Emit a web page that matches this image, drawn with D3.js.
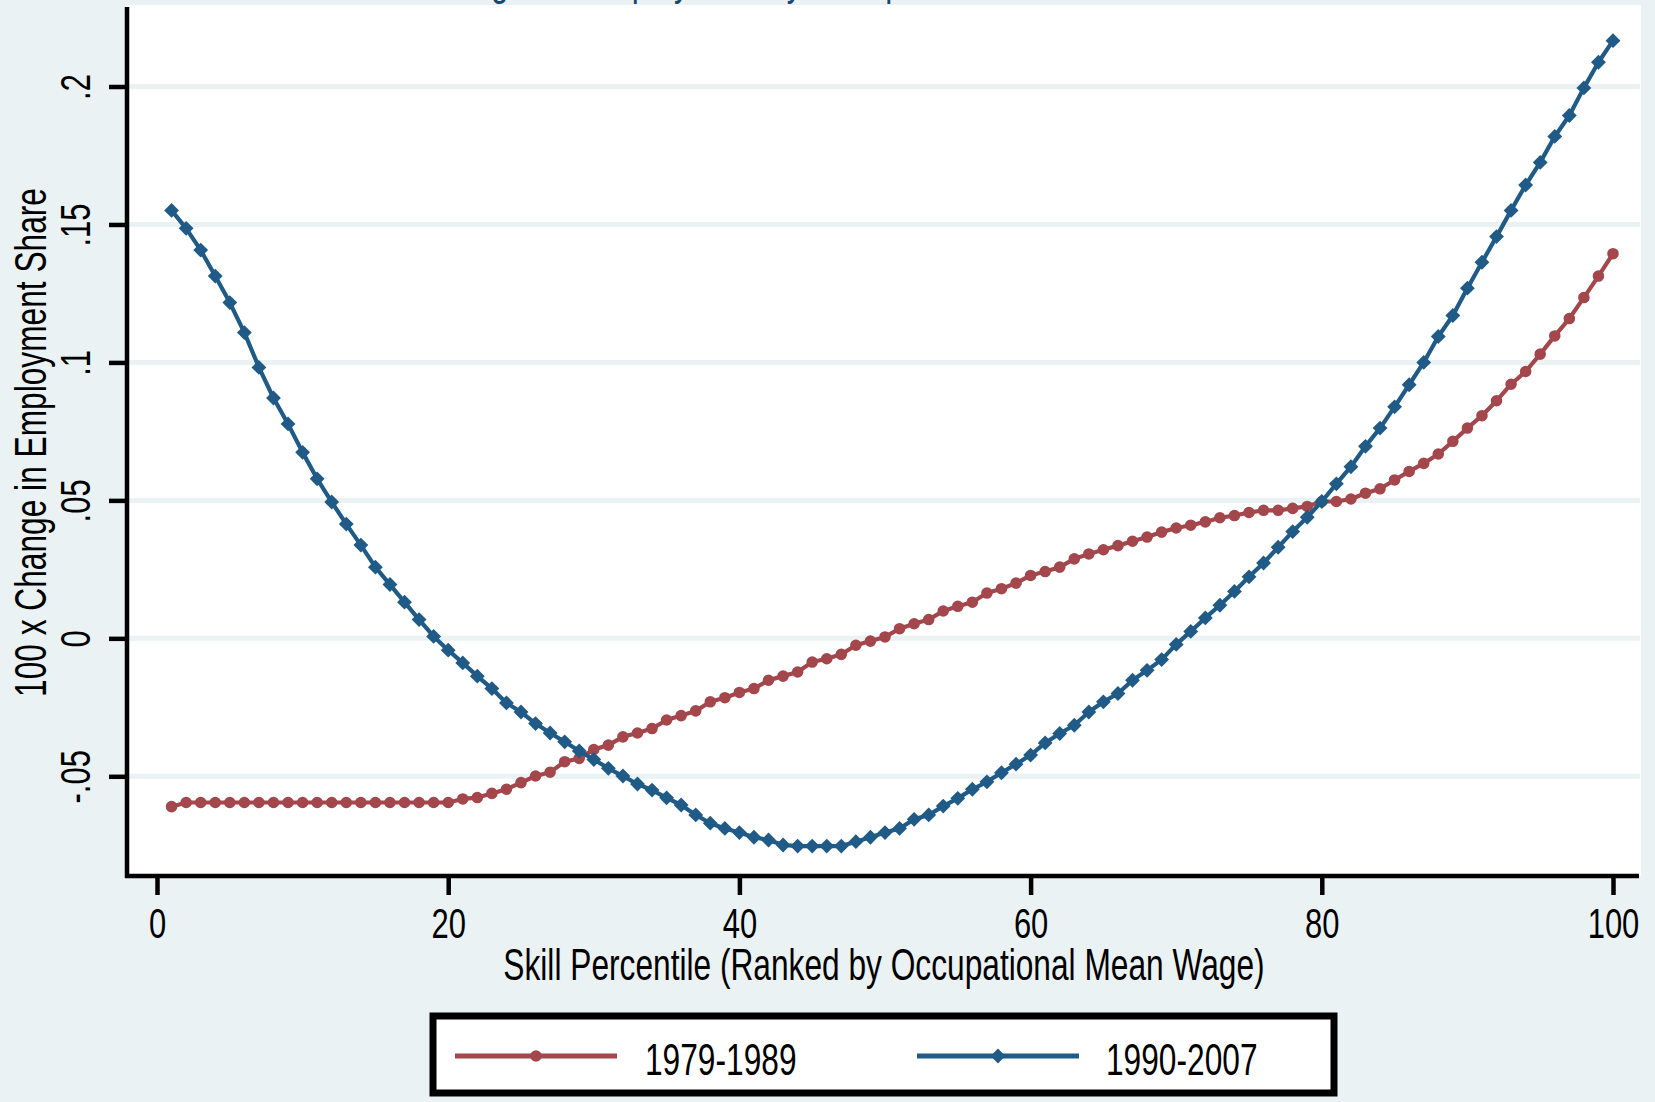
<!DOCTYPE html>
<html>
<head>
<meta charset="utf-8">
<script src="https://cdn.jsdelivr.net/npm/d3@7"></script>
<style>
  html, body { margin: 0; padding: 0; background: #eaf2f3; }
  svg { display: block; }
  text { font-family: "Liberation Sans", Arial, sans-serif; fill: #000; }
</style>
</head>
<body>
<svg id="chart" width="1655" height="1102"></svg>
<script>
// Skill percentile of occupations (ranked by occupational mean wage)
const percentile = d3.range(1, 101);

// 100 x change in employment share, 1979-1989
const change7989 = [
  -0.0610, -0.0595, -0.0595, -0.0595, -0.0595, -0.0595, -0.0595, -0.0595, -0.0595, -0.0595,
  -0.0595, -0.0595, -0.0595, -0.0595, -0.0595, -0.0595, -0.0595, -0.0595, -0.0595, -0.0595,
  -0.0582, -0.0577, -0.0562, -0.0547, -0.0523, -0.0499, -0.0485, -0.0447, -0.0435, -0.0403,
  -0.0387, -0.0357, -0.0343, -0.0327, -0.0296, -0.0280, -0.0263, -0.0230, -0.0215, -0.0196,
  -0.0182, -0.0152, -0.0137, -0.0122, -0.0086, -0.0074, -0.0058, -0.0025, -0.0010, 0.0005,
  0.0035, 0.0053, 0.0068, 0.0099, 0.0116, 0.0131, 0.0164, 0.0180, 0.0200, 0.0228,
  0.0242, 0.0258, 0.0288, 0.0306, 0.0321, 0.0336, 0.0352, 0.0367, 0.0385, 0.0400,
  0.0410, 0.0422, 0.0437, 0.0445, 0.0456, 0.0464, 0.0464, 0.0471, 0.0478, 0.0496,
  0.0496, 0.0505, 0.0526, 0.0542, 0.0574, 0.0605, 0.0634, 0.0668, 0.0714, 0.0762,
  0.0807, 0.0861, 0.0921, 0.0967, 0.1030, 0.1096, 0.1159, 0.1235, 0.1313, 0.1394
];

// 100 x change in employment share, 1990-2007
const change9007 = [
  0.1551, 0.1486, 0.1407, 0.1313, 0.1217, 0.1108, 0.0982, 0.0871, 0.0777, 0.0674,
  0.0578, 0.0494, 0.0414, 0.0338, 0.0258, 0.0195, 0.0131, 0.0068, 0.0007, -0.0043,
  -0.0089, -0.0137, -0.0182, -0.0234, -0.0267, -0.0309, -0.0343, -0.0375, -0.0408, -0.0439,
  -0.0471, -0.0499, -0.0528, -0.0550, -0.0578, -0.0604, -0.0640, -0.0670, -0.0689, -0.0704,
  -0.0721, -0.0731, -0.0749, -0.0753, -0.0753, -0.0753, -0.0753, -0.0737, -0.0721, -0.0704,
  -0.0689, -0.0656, -0.0640, -0.0608, -0.0580, -0.0547, -0.0520, -0.0487, -0.0456, -0.0423,
  -0.0379, -0.0345, -0.0315, -0.0267, -0.0230, -0.0200, -0.0152, -0.0116, -0.0077, -0.0022,
  0.0025, 0.0074, 0.0120, 0.0170, 0.0223, 0.0273, 0.0330, 0.0387, 0.0439, 0.0496,
  0.0560, 0.0622, 0.0696, 0.0762, 0.0839, 0.0919, 0.1000, 0.1094, 0.1170, 0.1269,
  0.1363, 0.1456, 0.1551, 0.1643, 0.1725, 0.1819, 0.1895, 0.1995, 0.2088, 0.2166
];

const seriesNames = ["1979-1989", "1990-2007"];
const xTicks = [0, 20, 40, 60, 80, 100];
const xTickLabels = ["0", "20", "40", "60", "80", "100"];
const yTicks = [-0.05, 0, 0.05, 0.1, 0.15, 0.2];
const yTickLabels = ["-.05", "0", ".05", ".1", ".15", ".2"];

const chartTitle = "Smoothed Changes in Employment by Occupational Skill Percentile";
const xTitle = "Skill Percentile (Ranked by Occupational Mean Wage)";
const yTitle = "100 x Change in Employment Share";

// ---- layout ----
const bg = "#eaf2f3";
const red = "#a3474c";
const blue = "#1f5b86";
const plot = { left: 127, top: 5, right: 1641, bottom: 876 };
const squeezeK = 0.72;   // condensed lettering

const svg = d3.select("#chart");

const x = d3.scaleLinear().domain([0, 100]).range([157, 1613]);
const y = d3.scaleLinear().domain([-0.05, 0.2]).range([776.3, 86.5]);

function squeeze(sel, k) {
  sel.each(function () {
    const w = this.getComputedTextLength();
    d3.select(this).attr("textLength", w * k).attr("lengthAdjust", "spacingAndGlyphs");
  });
}

svg.append("rect").attr("width", 1655).attr("height", 1102).attr("fill", bg);

// title (sits mostly above the top edge of the page)
svg.append("text")
  .attr("x", 262).attr("y", -5)
  .attr("font-size", 44)
  .style("fill", "#1a476f")
  .text(chartTitle)
  .call(squeeze, squeezeK);

// plot region
svg.append("rect")
  .attr("x", plot.left).attr("y", plot.top)
  .attr("width", plot.right - plot.left).attr("height", plot.bottom - plot.top)
  .attr("fill", "#fff");

// horizontal grid
svg.append("g").selectAll("line").data(yTicks).join("line")
  .attr("x1", plot.left).attr("x2", plot.right - 1)
  .attr("y1", d => y(d)).attr("y2", d => y(d))
  .attr("stroke", bg).attr("stroke-width", 5);

// y axis
const yAxis = svg.append("g")
  .attr("transform", `translate(${plot.left},0)`)
  .call(d3.axisLeft(y).tickValues(yTicks).tickSize(18).tickSizeOuter(0)
    .tickFormat((d, i) => yTickLabels[i]));
yAxis.select(".domain").remove();
yAxis.selectAll(".tick line").attr("stroke", "#000").attr("stroke-width", 4.5);
yAxis.selectAll(".tick text")
  .attr("transform", "rotate(-90)")
  .attr("x", 0).attr("y", -37).attr("dy", 0)
  .attr("text-anchor", "middle")
  .attr("font-size", 43)
  .call(squeeze, squeezeK);

// x axis
const xAxis = svg.append("g")
  .attr("transform", `translate(0,${plot.bottom})`)
  .call(d3.axisBottom(x).tickValues(xTicks).tickSize(19).tickSizeOuter(0)
    .tickFormat((d, i) => xTickLabels[i]));
xAxis.select(".domain").remove();
xAxis.selectAll(".tick line").attr("stroke", "#000").attr("stroke-width", 4.5);
xAxis.selectAll(".tick text")
  .attr("y", 62).attr("dy", 0)
  .attr("font-size", 43)
  .call(squeeze, squeezeK);

// axis lines
svg.append("line")
  .attr("x1", plot.left).attr("x2", plot.left)
  .attr("y1", 7).attr("y2", plot.bottom + 2)
  .attr("stroke", "#000").attr("stroke-width", 4.5);
svg.append("line")
  .attr("x1", plot.left - 2).attr("x2", plot.right - 2)
  .attr("y1", plot.bottom).attr("y2", plot.bottom)
  .attr("stroke", "#000").attr("stroke-width", 4.5);

// axis titles
svg.append("text")
  .attr("x", (plot.left + plot.right) / 2).attr("y", 980)
  .attr("text-anchor", "middle").attr("font-size", 44)
  .text(xTitle)
  .call(squeeze, squeezeK);

svg.append("text")
  .attr("transform", `translate(46,${(plot.top + plot.bottom) / 2 + 2}) rotate(-90)`)
  .attr("text-anchor", "middle").attr("font-size", 44)
  .text(yTitle)
  .call(squeeze, squeezeK);

// series
const line = d3.line().x(d => x(d[0])).y(d => y(d[1]));
const circle = d3.symbol(d3.symbolCircle, 105);
const diamond = d3.symbol(d3.symbolSquare, 110);

const series = [
  { name: seriesNames[0], values: change7989, color: red, marker: circle, rot: 0 },
  { name: seriesNames[1], values: change9007, color: blue, marker: diamond, rot: 45 }
];

series.forEach(s => {
  const pts = percentile.map((p, i) => [p, s.values[i]]);
  const g = svg.append("g");
  g.append("path").datum(pts)
    .attr("d", line)
    .attr("fill", "none").attr("stroke", s.color)
    .attr("stroke-width", 4.2).attr("stroke-linejoin", "round");
  g.selectAll("path.mk").data(pts).join("path")
    .attr("class", "mk")
    .attr("d", s.marker)
    .attr("transform", d => `translate(${x(d[0])},${y(d[1])}) rotate(${s.rot})`)
    .attr("fill", s.color);
});

// legend
const lg = svg.append("g");
lg.append("rect")
  .attr("x", 433).attr("y", 1016).attr("width", 901).attr("height", 77)
  .attr("fill", "#fff").attr("stroke", "#000").attr("stroke-width", 7);

const legendItems = [
  { s: series[0], x1: 455, x2: 617, tx: 645 },
  { s: series[1], x1: 917, x2: 1079, tx: 1106 }
];
legendItems.forEach(it => {
  const cy = 1056;
  lg.append("line")
    .attr("x1", it.x1).attr("x2", it.x2).attr("y1", cy).attr("y2", cy)
    .attr("stroke", it.s.color).attr("stroke-width", 5);
  lg.append("path")
    .attr("d", it.s.marker)
    .attr("transform", `translate(${(it.x1 + it.x2) / 2},${cy}) rotate(${it.s.rot})`)
    .attr("fill", it.s.color);
  lg.append("text")
    .attr("x", it.tx).attr("y", 1075)
    .attr("font-size", 44)
    .text(it.s.name)
    .call(squeeze, squeezeK);
});
</script>
</body>
</html>
